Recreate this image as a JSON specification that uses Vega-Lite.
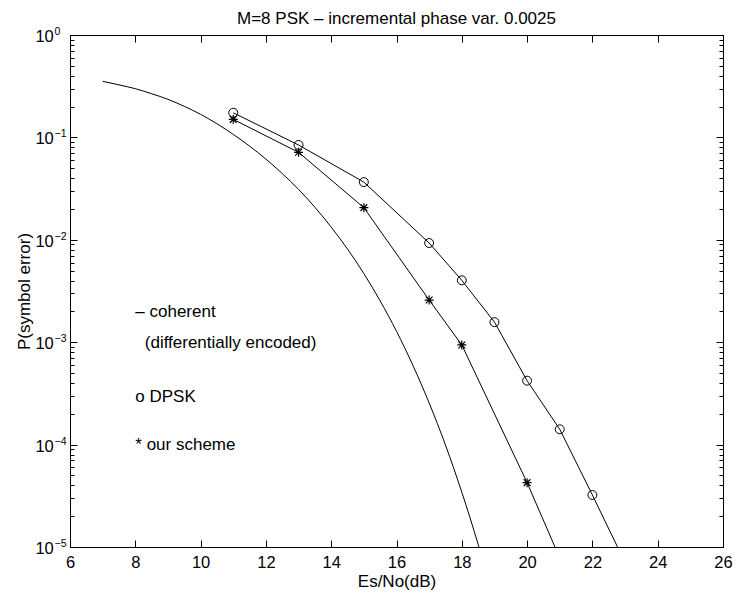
{
  "$schema": "https://vega.github.io/schema/vega-lite/v6.json",
  "width": 653,
  "height": 512,
  "autosize": {"type": "none"},
  "padding": {"left": 70, "top": 35, "right": 13, "bottom": 50},
  "background": "white",
  "title": {"text": "M=8 PSK – incremental phase var. 0.0025", "font": "Liberation Sans", "fontSize": 17, "fontWeight": "normal", "color": "black", "anchor": "middle", "baseline": "alphabetic", "offset": -14},
  "config": {
    "font": "Liberation Sans",
    "view": {"stroke": "black", "strokeWidth": 1},
    "axis": {"grid": false, "domainColor": "black", "tickColor": "black", "labelColor": "black", "titleColor": "black", "labelFont": "Liberation Sans", "titleFont": "Liberation Sans", "labelFontSize": 16.5, "titleFontSize": 17, "titleFontWeight": "normal", "domainWidth": 1, "tickWidth": 1}
  },
  "datasets": {
    "coherent": [
      {"x": 7, "p": 0.353}, {"x": 7.5, "p": 0.326}, {"x": 8, "p": 0.299}, {"x": 8.5, "p": 0.267},
      {"x": 9, "p": 0.2355}, {"x": 9.5, "p": 0.201}, {"x": 10, "p": 0.168}, {"x": 10.5, "p": 0.136},
      {"x": 11, "p": 0.107}, {"x": 11.5, "p": 0.0822}, {"x": 12, "p": 0.0614}, {"x": 12.5, "p": 0.0444},
      {"x": 13, "p": 0.0311}, {"x": 13.5, "p": 0.0208}, {"x": 14, "p": 0.0133}, {"x": 14.5, "p": 0.00812},
      {"x": 15, "p": 0.00468}, {"x": 15.5, "p": 0.00253}, {"x": 16, "p": 0.00128}, {"x": 16.5, "p": 0.000596},
      {"x": 17, "p": 0.000255}, {"x": 17.5, "p": 0.000099}, {"x": 18, "p": 0.0000343}, {"x": 18.5, "p": 0.0000106},
      {"x": 19, "p": 0.0000028}
    ],
    "dpsk": [
      {"x": 11, "p": 0.174}, {"x": 13, "p": 0.0843}, {"x": 15, "p": 0.0366}, {"x": 17, "p": 0.0093},
      {"x": 18, "p": 0.00402}, {"x": 19, "p": 0.00157}, {"x": 20, "p": 0.000421}, {"x": 21, "p": 0.000141},
      {"x": 22, "p": 0.0000322}, {"x": 23, "p": 0.00000705}
    ],
    "ours": [
      {"x": 11, "p": 0.150}, {"x": 13, "p": 0.0715}, {"x": 15, "p": 0.0206}, {"x": 17, "p": 0.00258},
      {"x": 18, "p": 0.00094}, {"x": 20, "p": 0.0000425}, {"x": 21, "p": 0.0000078}
    ],
    "notes": [
      {"x": 8, "p": 0.00196, "label": "– coherent"},
      {"x": 8.29, "p": 0.000975, "label": "(differentially encoded)"},
      {"x": 8, "p": 0.000294, "label": "o DPSK"},
      {"x": 8, "p": 0.000099, "label": "* our scheme"}
    ]
  },
  "layer": [
    {
      "data": {"name": "coherent"},
      "mark": {"type": "line", "clip": true, "color": "black", "strokeWidth": 1, "interpolate": "monotone"},
      "encoding": {
        "x": {"field": "x", "type": "quantitative", "scale": {"domain": [6, 26], "nice": false, "zero": false},
          "axis": {"orient": "bottom", "title": "Es/No(dB)", "values": [6, 8, 10, 12, 14, 16, 18, 20, 22, 24, 26], "tickSize": -7, "labelPadding": 14, "titlePadding": 3, "labelFlush": false, "labelOverlap": false}},
        "y": {"field": "p", "type": "quantitative", "scale": {"type": "log", "domain": [0.00001, 1], "nice": false},
          "axis": {"orient": "left", "title": "P(symbol error)", "titlePadding": 1, "labelPadding": 23.7, "labelOffset": 1.5, "labelAlign": "right", "labelFlush": false, "labelOverlap": false,
            "values": [0.00001, 0.00002, 0.00003, 0.00004, 0.00005, 0.00006, 0.00007, 0.00008, 0.00009, 0.0001, 0.0002, 0.0003, 0.0004, 0.0005, 0.0006, 0.0007, 0.0008, 0.0009, 0.001, 0.002, 0.003, 0.004, 0.005, 0.006, 0.007, 0.008, 0.009, 0.01, 0.02, 0.03, 0.04, 0.05, 0.06, 0.07, 0.08, 0.09, 0.1, 0.2, 0.3, 0.4, 0.5, 0.6, 0.7, 0.8, 0.9, 1],
            "labelExpr": "abs(log(datum.value)/LN10 - round(log(datum.value)/LN10)) < 0.001 ? '10' : ''",
            "tickSize": {"condition": {"test": "abs(log(datum.value)/LN10 - round(log(datum.value)/LN10)) < 0.001", "value": -7}, "value": -4}}}
      }
    },
    {
      "data": {"name": "dpsk"},
      "mark": {"type": "line", "clip": true, "color": "black", "strokeWidth": 1},
      "encoding": {
        "x": {"field": "x", "type": "quantitative", "scale": {"domain": [6, 26], "nice": false, "zero": false},
          "axis": {"orient": "top", "title": null, "labels": false, "values": [6, 8, 10, 12, 14, 16, 18, 20, 22, 24, 26], "tickSize": -7}},
        "y": {"field": "p", "type": "quantitative", "scale": {"type": "log", "domain": [0.00001, 1], "nice": false},
          "axis": {"orient": "right", "title": null, "labels": false,
            "values": [0.00001, 0.00002, 0.00003, 0.00004, 0.00005, 0.00006, 0.00007, 0.00008, 0.00009, 0.0001, 0.0002, 0.0003, 0.0004, 0.0005, 0.0006, 0.0007, 0.0008, 0.0009, 0.001, 0.002, 0.003, 0.004, 0.005, 0.006, 0.007, 0.008, 0.009, 0.01, 0.02, 0.03, 0.04, 0.05, 0.06, 0.07, 0.08, 0.09, 0.1, 0.2, 0.3, 0.4, 0.5, 0.6, 0.7, 0.8, 0.9, 1],
            "tickSize": {"condition": {"test": "abs(log(datum.value)/LN10 - round(log(datum.value)/LN10)) < 0.001", "value": -7}, "value": -4}}}
      }
    },
    {
      "data": {"name": "dpsk"},
      "mark": {"type": "point", "clip": true, "shape": "circle", "filled": false, "stroke": "black", "strokeWidth": 1, "size": 80, "opacity": 1},
      "encoding": {
        "x": {"field": "x", "type": "quantitative", "axis": null},
        "y": {"field": "p", "type": "quantitative",
          "axis": {"orient": "left", "title": null, "domain": false, "ticks": true, "tickSize": -7, "tickOpacity": 0, "labelPadding": 23, "labelAlign": "left", "labelOffset": -3.5, "labelFontSize": 10.5, "labelFlush": false, "labelOverlap": false,
            "values": [0.00001, 0.0001, 0.001, 0.01, 0.1, 1],
            "labelExpr": "['0','−1','−2','−3','−4','−5'][-round(log(datum.value)/LN10)]"}}
      }
    },
    {
      "data": {"name": "ours"},
      "mark": {"type": "line", "clip": true, "color": "black", "strokeWidth": 1},
      "encoding": {
        "x": {"field": "x", "type": "quantitative", "axis": null},
        "y": {"field": "p", "type": "quantitative", "axis": null}
      }
    },
    {
      "data": {"name": "ours"},
      "mark": {"type": "point", "clip": true, "shape": "M-1,0L1,0M0,-1L0,1M-0.75,-0.75L0.75,0.75M-0.75,0.75L0.75,-0.75", "filled": false, "stroke": "black", "strokeWidth": 1.2, "size": 81, "opacity": 1},
      "encoding": {
        "x": {"field": "x", "type": "quantitative", "axis": null},
        "y": {"field": "p", "type": "quantitative", "axis": null}
      }
    },
    {
      "data": {"name": "notes"},
      "mark": {"type": "text", "align": "left", "baseline": "middle", "font": "Liberation Sans", "fontSize": 17, "color": "black"},
      "encoding": {
        "x": {"field": "x", "type": "quantitative", "axis": null},
        "y": {"field": "p", "type": "quantitative", "axis": null},
        "text": {"field": "label"}
      }
    }
  ],
  "resolve": {"axis": {"x": "independent", "y": "independent"}}
}
